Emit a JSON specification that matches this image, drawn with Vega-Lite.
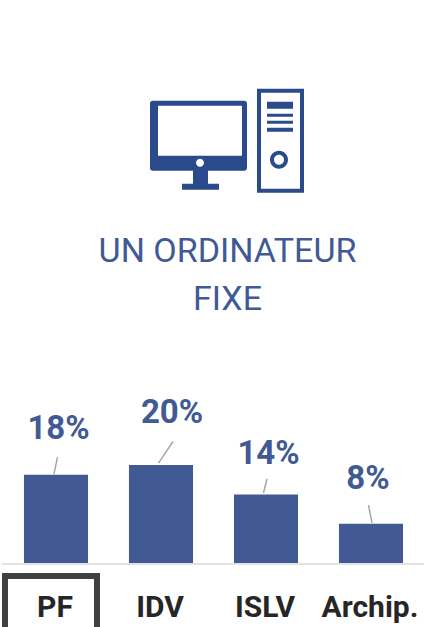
{"$schema":"https://vega.github.io/schema/vega-lite/v6.json","width":424,"height":627,"padding":0,"autosize":"none","background":"white","view":{"stroke":null},
"datasets":{"bars":[{"cat":"PF","value":18,"label":"18%","lx":58.5,"ly":25.4},{"cat":"IDV","value":20,"label":"20%","lx":172,"ly":28.6},{"cat":"ISLV","value":14,"label":"14%","lx":268.5,"ly":20.2},{"cat":"Archip.","value":8,"label":"8%","lx":368,"ly":15.1}],
"leaders":[{"cat":"PF","lx":54,"ly":18.2},{"cat":"PF","lx":57.5,"ly":21.6},{"cat":"IDV","lx":158.5,"ly":20.4},{"cat":"IDV","lx":173,"ly":24.8},{"cat":"ISLV","lx":263.5,"ly":14.3},{"cat":"ISLV","lx":267,"ly":17.2},{"cat":"Archip.","lx":372,"ly":8.2},{"cat":"Archip.","lx":368.5,"ly":11.8}],
"titles":[{"t":"UN ORDINATEUR","px":227.5,"py":61.4},{"t":"FIXE","px":227.5,"py":51.6}],
"cats":[{"t":"PF","px":55,"py":-11},{"t":"IDV","px":160,"py":-11},{"t":"ISLV","px":265,"py":-11},{"t":"Archip.","px":370,"py":-11}]},
"layer":[
{"data":{"values":[{"a":2,"b":424,"y":-0.2}]},"mark":{"type":"rule","color":"#d9d9d9","strokeWidth":1.5},"encoding":{"x":{"field":"a","type":"quantitative","scale":{"domain":[0,424]},"axis":null},"x2":{"field":"b"},"y":{"field":"y","type":"quantitative","scale":{"domain":[-13.06,114.9]},"axis":null}}},
{"data":{"name":"bars"},"mark":{"type":"bar","color":"#415a94"},"encoding":{"x":{"field":"cat","type":"nominal","sort":null,"scale":{"domain":["PF","IDV","ISLV","Archip."],"range":[3.5,423.5],"paddingInner":0.39,"paddingOuter":0.195},"axis":null},"y":{"field":"value","type":"quantitative","scale":{"domain":[-13.06,114.9]},"axis":null}}},
{"data":{"name":"leaders"},"mark":{"type":"line","color":"#a6a6a6","strokeWidth":1.5},"encoding":{"x":{"field":"lx","type":"quantitative","scale":{"domain":[0,424]},"axis":null},"y":{"field":"ly","type":"quantitative","scale":{"domain":[-13.06,114.9]},"axis":null},"detail":{"field":"cat"}}},
{"data":{"name":"bars"},"mark":{"type":"text","font":"Roboto","fontWeight":"bold","fontSize":33,"color":"#415a94","align":"center","baseline":"alphabetic"},"encoding":{"x":{"field":"lx","type":"quantitative","scale":{"domain":[0,424]},"axis":null},"y":{"field":"ly","type":"quantitative","scale":{"domain":[-13.06,114.9]},"axis":null},"text":{"field":"label"}}},
{"data":{"name":"titles"},"mark":{"type":"text","font":"Roboto","fontSize":34,"color":"#415a94","align":"center","baseline":"alphabetic"},"encoding":{"x":{"field":"px","type":"quantitative","scale":{"domain":[0,424]},"axis":null},"y":{"field":"py","type":"quantitative","scale":{"domain":[-13.06,114.9]},"axis":null},"text":{"field":"t"}}},
{"data":{"name":"cats"},"mark":{"type":"text","font":"Roboto","fontWeight":"bold","fontSize":30,"color":"#262626","align":"center","baseline":"alphabetic"},"encoding":{"x":{"field":"px","type":"quantitative","scale":{"domain":[0,424]},"axis":null},"y":{"field":"py","type":"quantitative","scale":{"domain":[-13.06,114.9]},"axis":null},"text":{"field":"t"}}},
{"data":{"values":[{"a":5,"b":97,"y":-2.65,"y2":-20}]},"mark":{"type":"rect","fill":"transparent","stroke":"#404040","strokeWidth":6},"encoding":{"x":{"field":"a","type":"quantitative","scale":{"domain":[0,424]},"axis":null},"x2":{"field":"b"},"y":{"field":"y","type":"quantitative","scale":{"domain":[-13.06,114.9]},"axis":null},"y2":{"field":"y2"}}},
{"data":{"values":[{"px":227.5,"py":86.4}]},"mark":{"type":"point","filled":true,"opacity":1,"color":"#2b4a8b","size":40000,"shape":"M -.745 -.39 H .165 Q .195 -.39 .195 -.36 V .28 Q .195 .31 .165 .31 H -.745 Q -.775 .31 -.775 .28 V -.36 Q -.775 -.39 -.745 -.39 Z M -.695 -.34 V .16 H .145 V -.34 Z M -.345 .31 H -.195 V .44 H -.085 V .5 H -.455 V .44 H -.345 Z M -.315 .23 A .04 .04 0 1 0 -.235 .23 A .04 .04 0 1 0 -.315 .23 Z M .295 -.51 H .765 V .53 H .295 Z M .335 -.47 V .49 H .725 V -.47 Z M .395 -.38 H .655 V -.31 H .395 Z M .395 -.26 H .655 V -.23 H .395 Z M .395 -.19 H .655 V -.16 H .395 Z M .395 -.12 H .655 V -.08 H .395 Z M .425 .2 A .09 .09 0 1 1 .605 .2 A .09 .09 0 1 1 .425 .2 Z M .465 .2 A .05 .05 0 1 0 .565 .2 A .05 .05 0 1 0 .465 .2 Z"},"encoding":{"x":{"field":"px","type":"quantitative","scale":{"domain":[0,424]},"axis":null},"y":{"field":"py","type":"quantitative","scale":{"domain":[-13.06,114.9]},"axis":null}}}
],"resolve":{"scale":{"x":"independent"}}}
